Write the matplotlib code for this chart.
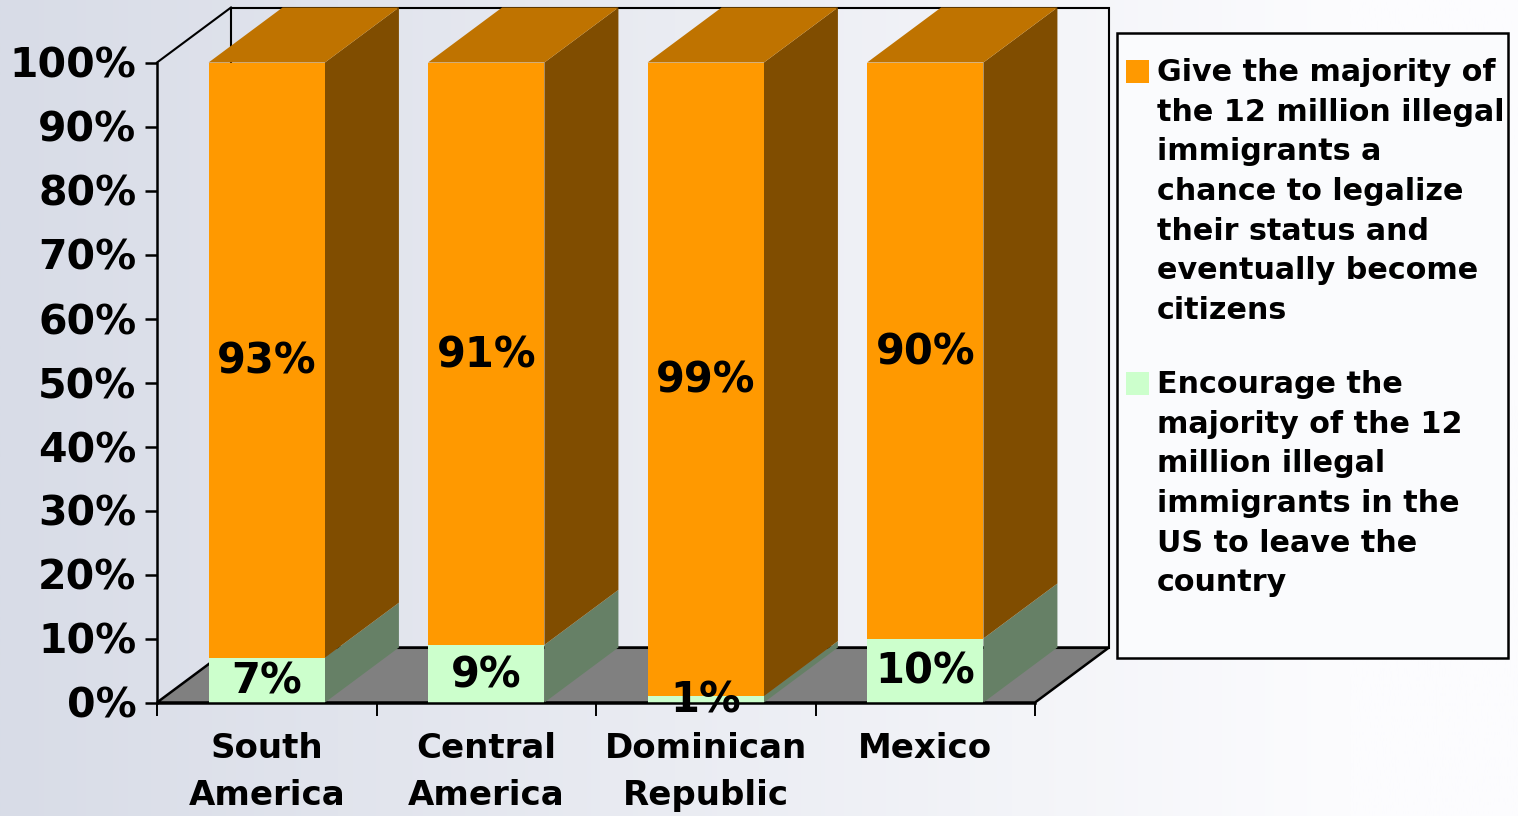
import numpy as np
import matplotlib
matplotlib.use('Agg')
import matplotlib.pyplot as plt
from matplotlib.patches import Polygon, Rectangle
from matplotlib.transforms import ScaledTranslation

W, H = 1518, 816

categories = ['South\nAmerica', 'Central\nAmerica', 'Dominican\nRepublic', 'Mexico']
legalize = [93, 91, 99, 90]
leave = [7, 9, 1, 10]
legend_legalize = ('Give the majority of\nthe 12 million illegal\nimmigrants a\n'
                   'chance to legalize\ntheir status and\neventually become\ncitizens')
legend_leave = ('Encourage the\nmajority of the 12\nmillion illegal\n'
                'immigrants in the\nUS to leave the\ncountry')

ORANGE, ORANGE_SIDE, ORANGE_TOP = '#ff9900', '#804d00', '#bf7300'
GREEN, GREEN_SIDE = '#ccffcc', '#668066'
FLOOR = '#808080'

plt.rcParams['font.family'] = 'DejaVu Sans'
plt.rcParams['font.weight'] = 'bold'

fig = plt.figure(figsize=(W / 100, H / 100), dpi=100)

# background gradient, left to right
bg = fig.add_axes([0, 0, 1, 1])
grad = np.clip(np.linspace(0, W / 1350, 512), 0, 1).reshape(1, -1, 1)
left_c = np.array([0xd8, 0xdc, 0xe7]) / 255
right_c = np.array([0xfc, 0xfc, 0xfe]) / 255
bg.imshow(left_c + (right_c - left_c) * grad, aspect='auto', extent=[0, W, H, 0])
bg.set_xlim(0, W)
bg.set_ylim(H, 0)
bg.axis('off')

# front plane of the 3D box
ax = fig.add_axes([157 / W, 1 - 702.5 / H, 878 / W, 640 / H])
ax.patch.set_alpha(0)
ax.set_xlim(0, 4)
ax.set_ylim(0, 100)
dx = 74 / (878 / 4)
dy = 55 / 6.4
bar_w = 0.53

# value labels sit a little low in the original
label_trans = ax.transData + ScaledTranslation(0, -1.5 / 100, fig.dpi_scale_trans)

# floor and back walls
ax.add_patch(Polygon([(0, 0), (4, 0), (4 + dx, dy), (dx, dy)], fc=FLOOR, ec='black', lw=1.8,
                     clip_on=False, zorder=1))
ax.add_patch(Rectangle((dx, dy), 4, 100, fc='none', ec='black', lw=1.5, clip_on=False, zorder=1))
ax.plot([0, dx], [100, 100 + dy], color='black', lw=1.5, clip_on=False, zorder=1)

x = np.arange(len(categories)) + 0.5
ax.bar(x, leave, bar_w, color=GREEN, zorder=3)
ax.bar(x, legalize, bar_w, bottom=leave, color=ORANGE, zorder=3)

for xc, g, o in zip(x, leave, legalize):
    x1 = xc + bar_w / 2
    x0 = xc - bar_w / 2
    ax.add_patch(Polygon([(x1, 0), (x1 + dx, dy), (x1 + dx, g + dy), (x1, g)],
                         fc=GREEN_SIDE, ec='none', clip_on=False, zorder=2))
    ax.add_patch(Polygon([(x1, g), (x1 + dx, g + dy), (x1 + dx, g + o + dy), (x1, g + o)],
                         fc=ORANGE_SIDE, ec='none', clip_on=False, zorder=2))
    ax.add_patch(Polygon([(x0, g + o), (x1, g + o), (x1 + dx, g + o + dy), (x0 + dx, g + o + dy)],
                         fc=ORANGE_TOP, ec='none', clip_on=False, zorder=2))
    ax.text(xc, g + o / 2, f'{o}%', ha='center', va='center', fontsize=30, zorder=6,
            transform=label_trans)
    ax.text(xc, g / 2, f'{g}%', ha='center', va='center', fontsize=30, zorder=6,
            transform=label_trans)

for side in ['top', 'right']:
    ax.spines[side].set_visible(False)
for side in ['left', 'bottom']:
    ax.spines[side].set_linewidth(1.8)
    ax.spines[side].set_zorder(5)

ax.set_yticks(range(0, 101, 10))
ax.set_yticklabels([f'{v}%' for v in range(0, 101, 10)], fontsize=29.5)
for lbl in ax.get_yticklabels():
    lbl.set_transform(lbl.get_transform() + ScaledTranslation(0, -3 / 100, fig.dpi_scale_trans))
ax.set_xticks(range(5))
ax.set_xticklabels([])
ax.set_xticks(x, categories, minor=True, fontsize=24.5, linespacing=1.55)
ax.tick_params(axis='y', length=9, width=1.8, pad=6)
ax.tick_params(axis='x', which='major', length=9, width=1.4)
ax.tick_params(axis='x', which='minor', length=0, pad=21)

# legend box
bg.add_patch(Rectangle((1117, 33), 391, 625, fc='#fafbfd', ec='black', lw=1.8, zorder=2))
bg.add_patch(Rectangle((1126, 60), 23, 23, fc=ORANGE, ec='none', zorder=3))
bg.add_patch(Rectangle((1126, 372), 23, 23, fc=GREEN, ec='none', zorder=3))
bg.text(1157, 58, legend_legalize, fontsize=21.7, va='top', ha='left', linespacing=1.465, zorder=3)
bg.text(1157, 370, legend_leave, fontsize=21.7, va='top', ha='left', linespacing=1.465, zorder=3)

fig.savefig('out.png', dpi=100)
